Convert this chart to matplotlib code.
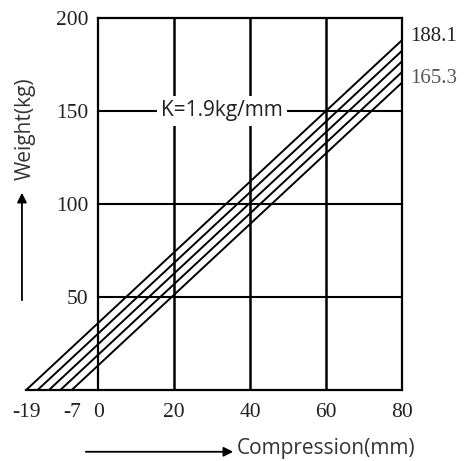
import numpy as np
import matplotlib
matplotlib.use("Agg")
import matplotlib.pyplot as plt

# spring load lines, K = 1.9 kg/mm, different preload offsets
k_rate = 1.9
offsets = [-19, -16, -13, -10, -7]
x_end = 80
end_labels = ["188.1", "165.3"]
end_values = [k_rate * (x_end - offsets[0]), k_rate * (x_end - offsets[-1])]

xticks = [-19, -7, 0, 20, 40, 60, 80]
xtick_labels = ["-19", "-7", "0", "20", "40", "60", "80"]
yticks = [50, 100, 150, 200]
grid_x = [20, 40, 60]
grid_y = [50, 100, 150]

plt.rcParams['font.family'] = ['Liberation Serif', 'DejaVu Serif']
sans = ["Open Sans", "DejaVu Sans"]

fig = plt.figure(figsize=(4.67, 4.61), dpi=100)
ax = fig.add_axes([0.056, 0.154, 0.805, 0.807])

for x0 in offsets:
    xs = np.array([x0, x_end])
    ax.plot(xs, k_rate * (xs - x0), color="black", lw=1.4, solid_capstyle="butt")

for gx in grid_x:
    ax.plot([gx, gx], [0, 200], color="black", lw=1.8, zorder=1)
for gy in grid_y:
    ax.plot([0, x_end], [gy, gy], color="black", lw=1.5, zorder=1)

ax.set_xlim(-19, 80)
ax.set_ylim(0, 200)

ax.spines['left'].set_position(('data', 0))
ax.spines['top'].set_bounds(0, 80)
for s in ax.spines.values():
    s.set_linewidth(1.6)

ax.set_xticks(xticks, xtick_labels)
ax.set_yticks(yticks)
ax.tick_params(length=0, labelsize=15.5, colors="#222222")
ax.tick_params(axis="x", pad=9)
ax.tick_params(axis="y", pad=7)

ax.text(32.5, 150, "K=1.9kg/mm", fontsize=15, ha="center", va="center",
        family=sans, color="#222222",
        bbox=dict(facecolor="white", edgecolor="none", pad=3), zorder=3)

ax.text(82, end_values[0] + 2, end_labels[0], fontsize=15, va="center", color="#222222")
ax.text(82, end_values[1] + 2, end_labels[1], fontsize=15, va="center", color="#555555")

# axis captions with arrows
fig.text(0.054, 0.72, "Weight(kg)", rotation=90, ha="center", va="center",
         fontsize=15, family=sans, color="#333333")
fig.add_artist(matplotlib.patches.FancyArrowPatch(
    (0.047, 1 - 303 / 461), (0.047, 1 - 190 / 461), transform=fig.transFigure,
    arrowstyle="-|>", mutation_scale=14, color="black", lw=1.3))
fig.text(0.508, 0.028, "Compression(mm)", ha="left", va="center",
         fontsize=15, family=sans, color="#333333")
fig.add_artist(matplotlib.patches.FancyArrowPatch(
    (83 / 467, 0.02), (236 / 467, 0.02), transform=fig.transFigure,
    arrowstyle="-|>", mutation_scale=14, color="black", lw=1.3))

fig.savefig("out.png", dpi=100, facecolor="white")
